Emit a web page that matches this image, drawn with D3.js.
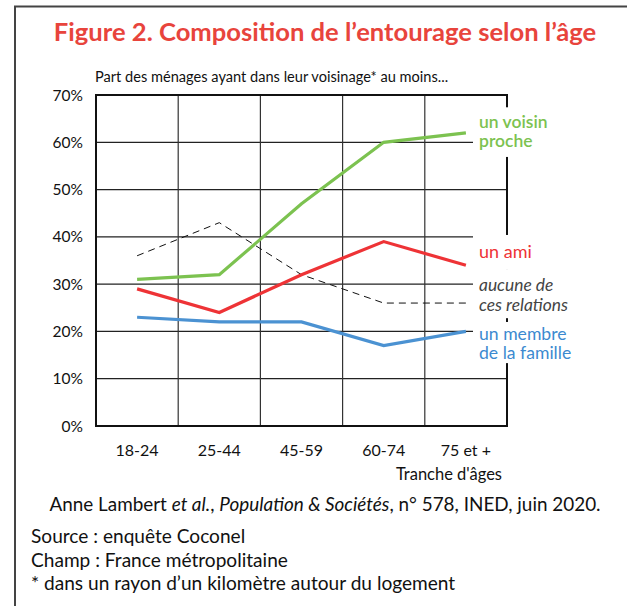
<!DOCTYPE html>
<html>
<head>
<meta charset="utf-8">
<script src="https://cdn.jsdelivr.net/npm/d3@7"></script>
<style>
  body { margin: 0; background: #fff; }
  svg { display: block; font-family: Lato, "Open Sans", sans-serif; }
</style>
</head>
<body>
<script>
var width = 627;
var height = 606;

// data
var ages = ["18-24", "25-44", "45-59", "60-74", "75 et +"];
var voisin = [31, 32, 47, 60, 62];
var ami = [29, 24, 32, 39, 34];
var aucune = [36, 43, 32, 26, 26];
var famille = [23, 22, 22, 17, 20];
var yTicks = [0, 10, 20, 30, 40, 50, 60, 70];

var series = [
    {name: "aucune", values: aucune, color: "#111", width: 1, dash: "7,5"},
    {name: "famille", values: famille, color: "#4b92d2", width: 3.2, dash: null},
    {name: "ami", values: ami, color: "#ee3336", width: 3.2, dash: null},
    {name: "voisin", values: voisin, color: "#7cc250", width: 3.2, dash: null}
];

var margin = {top: 95, left: 96, right: 120, bottom: 180};
var plotW = width - margin.left - margin.right;
var plotH = height - margin.top - margin.bottom;

var svg = d3.select("body").append("svg")
    .attr("width", width)
    .attr("height", height);

// frame
svg.append("path")
    .attr("d", "M15," + height + "V6.5H" + width)
    .attr("fill", "none")
    .attr("stroke", "#444")
    .attr("stroke-width", 2);

svg.append("text")
    .attr("x", 325)
    .attr("y", 41)
    .attr("text-anchor", "middle")
    .attr("fill", "#e8443c")
    .style("font-size", "25.6px")
    .style("font-weight", "700")
    .text("Figure 2. Composition de l\u2019entourage selon l\u2019âge");

svg.append("text")
    .attr("x", 95)
    .attr("y", 82)
    .attr("fill", "#111")
    .style("font-size", "14.6px")
    .text("Part des ménages ayant dans leur voisinage* au moins...");

var x = d3.scaleBand().domain(ages).range([0, plotW]);
var y = d3.scaleLinear().domain([0, 70]).range([plotH, 0]);

var g = svg.append("g")
    .attr("transform", "translate(" + margin.left + "," + margin.top + ")");

// grid
g.selectAll(".hgrid")
    .data(yTicks)
    .enter().append("line")
    .attr("x1", 0).attr("x2", plotW)
    .attr("y1", function(d) { return y(d); })
    .attr("y2", function(d) { return y(d); })
    .attr("stroke", "#222")
    .attr("stroke-width", 1.3);

g.selectAll(".vgrid")
    .data(ages.slice(1))
    .enter().append("line")
    .attr("x1", function(d) { return x(d); })
    .attr("x2", function(d) { return x(d); })
    .attr("y1", 0).attr("y2", plotH)
    .attr("stroke", "#333")
    .attr("stroke-width", 1.2);

g.append("rect")
    .attr("width", plotW).attr("height", plotH)
    .attr("fill", "none")
    .attr("stroke", "#111")
    .attr("stroke-width", 2);

// y labels
g.selectAll(".ylab")
    .data(yTicks)
    .enter().append("text")
    .attr("x", -13)
    .attr("y", function(d) { return y(d) + 5.5; })
    .attr("text-anchor", "end")
    .attr("fill", "#111")
    .style("font-size", "15.5px")
    .text(function(d) { return d + "%"; });

// x labels
g.selectAll(".xlab")
    .data(ages)
    .enter().append("text")
    .attr("x", function(d) { return x(d) + x.bandwidth() / 2; })
    .attr("y", plotH + 30)
    .attr("text-anchor", "middle")
    .attr("fill", "#111")
    .style("font-size", "16px")
    .text(function(d) { return d; });

g.append("text")
    .attr("x", plotW - 5)
    .attr("y", plotH + 54)
    .attr("text-anchor", "end")
    .attr("fill", "#111")
    .style("font-size", "16.5px")
    .text("Tranche d'âges");

// label backgrounds (hide grid/border behind series labels), value ranges
var boxes = [[67.4, 56.9], [40.4, 33], [33, 22.8], [22, 13.3]];
g.selectAll(".lblbox")
    .data(boxes)
    .enter().append("rect")
    .attr("x", plotW - 34)
    .attr("y", function(d) { return y(d[0]); })
    .attr("width", 130)
    .attr("height", function(d) { return y(d[1]) - y(d[0]); })
    .attr("fill", "#fff");

var line = d3.line()
    .x(function(d, i) { return x(ages[i]) + x.bandwidth() / 2; })
    .y(function(d) { return y(d); });

g.selectAll(".series")
    .data(series)
    .enter().append("path")
    .attr("d", function(d) { return line(d.values); })
    .attr("fill", "none")
    .attr("stroke", function(d) { return d.color; })
    .attr("stroke-width", function(d) { return d.width; })
    .attr("stroke-dasharray", function(d) { return d.dash; });

// series labels
var labels = [
    {lines: ["un voisin", "proche"], y: 127.5, color: "#7cc250", weight: 600, style: "normal", size: 17.5},
    {lines: ["un ami"], y: 258, color: "#ee3336", weight: 400, style: "normal", size: 18},
    {lines: ["aucune de", "ces relations"], y: 291, color: "#444", weight: 400, style: "italic", size: 17.4},
    {lines: ["un membre", "de la famille"], y: 339.5, color: "#3c8ad0", weight: 400, style: "normal", size: 17.6}
];

labels.forEach(function(l) {
    l.lines.forEach(function(s, i) {
        svg.append("text")
            .attr("x", 479)
            .attr("y", l.y + i * 19.5)
            .attr("fill", l.color)
            .style("font-size", l.size + "px")
            .style("font-weight", l.weight)
            .style("font-style", l.style)
            .text(s);
    });
});

// footer
var cite = svg.append("text")
    .attr("x", 325)
    .attr("y", 511)
    .attr("text-anchor", "middle")
    .attr("fill", "#111")
    .style("font-size", "18.9px");
cite.append("tspan").text("Anne Lambert ");
cite.append("tspan").style("font-style", "italic").text("et al.");
cite.append("tspan").text(", ");
cite.append("tspan").style("font-style", "italic").text("Population & Sociétés");
cite.append("tspan").text(", n° 578, INED, juin 2020.");

var notes = ["Source : enquête Coconel", "Champ : France métropolitaine", "* dans un rayon d\u2019un kilomètre autour du logement"];
svg.selectAll(".note")
    .data(notes)
    .enter().append("text")
    .attr("x", 31)
    .attr("y", function(d, i) { return 543 + i * 23.5; })
    .attr("fill", "#111")
    .style("font-size", "19.1px")
    .text(function(d) { return d; });
</script>
</body>
</html>
